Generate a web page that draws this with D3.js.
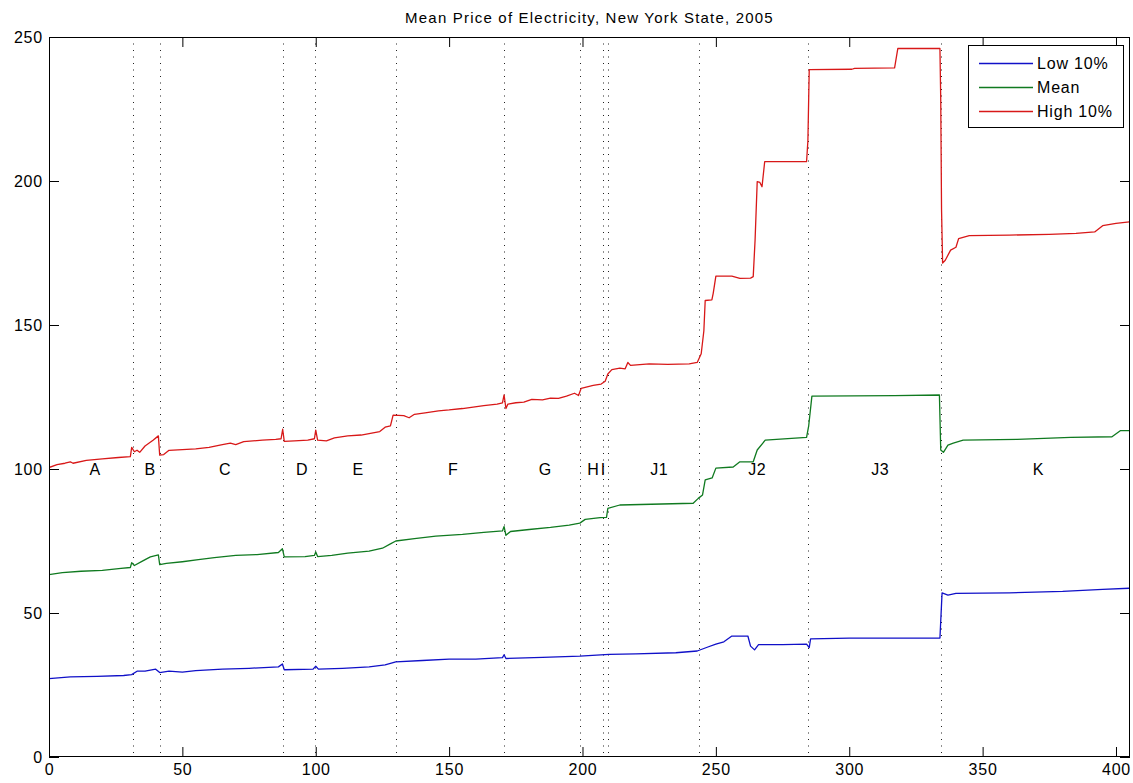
<!DOCTYPE html>
<html>
<head>
<meta charset="utf-8">
<script src="https://cdn.jsdelivr.net/npm/d3@7"></script>
<style>
  body { margin: 0; background: #fff; }
  text { font-family: "Liberation Sans", Arial, sans-serif; fill: #000; }
</style>
</head>
<body>
<svg></svg>
<script>
// values
var highX = [0,3,6,8,9,14,20,26,30.5,31,32,33,34,36,39,41,41.5,43,45,50,55,60,65,68,70,73,80,85,87,87.6,88.2,92,97,99.5,100,100.7,104,107,112,117,120,124,126,128,129,133,135,137,141,146,150,155,159,163,168,170,170.6,171.3,172,175,178,181,185,188,191,194,197,198.5,199.5,204,207,208.5,209.5,211,214,216,217,218,225,232,240,243,244.5,245.5,246,248.5,249,250,256,259,263,264,264.7,265.5,266.5,267.3,268.3,284,284.5,285,301,302,317,318.2,334,334.3,334.6,335,336,338,340,341,345,360,375,385,392,395,400,405]
var highY = [100.5,101.5,102,102.5,102,103,103.5,104,104.3,107.5,106,106.5,105.8,108,110,111.5,104.8,105,106.5,106.7,107,107.5,108.5,109,108.5,109.5,110,110.3,110.5,113.8,109.6,109.8,110,110.5,113.5,110,109.8,110.8,111.5,111.8,112.3,113,114.5,115,118.7,118.5,117.8,119,119.5,120.2,120.5,121,121.5,122,122.5,123,125.7,121,122.5,123,123.2,124.2,124,124.6,124.5,125.3,126.3,125.5,128,129,129.5,130.5,133,134.5,135,134.8,137,136,136.5,136.3,136.5,137,140,148,158.5,158.7,161,167,167,166.2,166.3,166.8,179.5,199.8,199.5,198,206.7,206.7,214,238.7,238.8,239.1,239.3,246,246,228,190,171.5,172.5,176,177,180,181,181.2,181.5,181.8,182.3,184.5,185.3,185.8]

var meanX = [0,5,12,20,27,30.5,31,32,35,38,41,41.5,44,50,56,62,70,78,86,87.5,88.2,96,99.5,100,100.7,106,112,120,125,128,130,137,145,155,163,170,170.6,171.3,173,180,188,195,199,201,206.6,209,209.5,214,241.5,243.4,245,246,248.6,250,256.5,259,264,265.5,268.5,284,284.8,286,317,333.8,334.3,335.3,337,339,342.7,363,383,398.5,401.6,405]
var meanY = [63.3,64,64.5,64.8,65.5,65.8,67.5,66.5,68,69.5,70.2,66.8,67.2,67.8,68.5,69.2,70,70.3,71,72.3,69.5,69.6,70,71.2,69.6,70,70.8,71.5,72.5,74,75,75.8,76.7,77.3,78,78.5,80,77,78.3,79,79.7,80.5,81.2,82.5,83.1,83.2,86.3,87.5,88.1,89.8,91,96.2,96.9,100.3,100.7,102.5,102.5,106.6,110,111,115,125.3,125.5,125.7,106.6,105.8,108.3,109,110,110.3,111,111.2,113.3,113.3]

var lowX = [0,8,18,28,31,33,36,40,41.5,45,50,55,65,75,86,87.5,88.2,99,100,101,110,120,126,130,140,150,160,170,170.6,171.3,185,199,210,220,235,243,247,250,253,256,262,263,264.5,266,275,284,285,285.5,300,334,334.8,337,340,360,380,395,405]
var lowY = [27.2,27.8,28,28.3,28.6,29.8,29.8,30.5,29.3,29.8,29.5,30,30.5,30.8,31.3,32.3,30.3,30.5,31.5,30.5,30.8,31.3,32,33,33.5,34,34,34.5,35.5,34.2,34.6,35,35.6,35.8,36.2,36.8,38.2,39.2,40,42,42,38.5,37.2,39,39,39.2,38,41,41.3,41.3,57,56.2,56.8,57,57.5,58.2,58.6]

var bounds = [31.4,41.6,87.6,99.8,130.1,170.6,198.9,207.6,209.4,243.8,284.5,334.4]
var regionNames = ["A","B","C","D","E","F","G","H","I","J1","J2","J3","K"]
var regionLabelX = [17.3,37.9,66,94.9,115.9,151.5,186,204,207.8,228.8,265.5,311.6,370.9]

var xTicks = [0,50,100,150,200,250,300,350,400]
var yTicks = [0,50,100,150,200,250]

var seriesNames = ["Low 10%","Mean","High 10%"]
var seriesColors = ["#1010c8","#107a20","#d81818"]

var screen = {width:1133, height:783}
var margins = {top:37, right:3, bottom:26, left:49}
var width = screen.width - margins.left - margins.right
var height = screen.height - margins.top - margins.bottom

var svg = d3.select("svg")
    .attr("width",screen.width)
    .attr("height",screen.height)

svg.append("rect").attr("width",screen.width).attr("height",screen.height).attr("fill","#fff")

var g = svg.append("g")
    .attr("id","graph")
    .attr("transform","translate("+margins.left+","+margins.top+")")

var xScale = d3.scaleLinear().domain([0,405.25]).range([0,width])
var yScale = d3.scaleLinear().domain([0,250]).range([height,0])

svg.append("defs").append("clipPath").attr("id","clip")
    .append("rect").attr("width",width).attr("height",height)

// region separators
g.selectAll(".sep")
    .data(bounds)
    .enter()
    .append("line")
    .attr("class","sep")
    .attr("x1",function(d){ return Math.round(xScale(d))+0.5 })
    .attr("x2",function(d){ return Math.round(xScale(d))+0.5 })
    .attr("y1",0)
    .attr("y2",height)
    .attr("stroke","#222")
    .attr("stroke-width",1)
    .attr("stroke-dasharray","1,5.5")

g.selectAll(".region")
    .data(regionNames)
    .enter()
    .append("text")
    .attr("class","region")
    .attr("x",function(d,i){ return xScale(regionLabelX[i]) })
    .attr("y",yScale(100))
    .attr("dy","0.36em")
    .attr("text-anchor","middle")
    .style("font-size","16px")
    .style("letter-spacing","0.5px")
    .text(function(d){ return d })

// series
var allSeries = [
    {x:lowX, y:lowY},
    {x:meanX, y:meanY},
    {x:highX, y:highY}
]
var line = d3.line()
    .x(function(d){ return xScale(d[0]) })
    .y(function(d){ return yScale(d[1]) })

g.append("g").attr("clip-path","url(#clip)")
    .selectAll("path")
    .data(allSeries)
    .enter()
    .append("path")
    .attr("fill","none")
    .attr("stroke",function(d,i){ return seriesColors[i] })
    .attr("stroke-width",1.3)
    .attr("stroke-linejoin","round")
    .attr("d",function(s){ return line(s.x.map(function(v,i){ return [v, s.y[i]] })) })

// axes, MATLAB style ticks inside on all sides
var tl = 10
var xAxis = d3.axisBottom(xScale).tickValues(xTicks).tickSizeInner(-tl).tickSizeOuter(0).tickPadding(7)
var yAxis = d3.axisLeft(yScale).tickValues(yTicks).tickSizeInner(-tl).tickSizeOuter(0).tickPadding(6)

g.append("g").attr("id","xAxis").attr("transform","translate(0,"+height+")").call(xAxis)
g.append("g").attr("id","yAxis").call(yAxis)
g.append("g").attr("transform","translate(0,0)")
    .call(d3.axisTop(xScale).tickValues(xTicks).tickSizeInner(-tl).tickSizeOuter(0).tickFormat(""))
g.append("g").attr("transform","translate("+width+",0)")
    .call(d3.axisRight(yScale).tickValues(yTicks).tickSizeInner(-tl).tickSizeOuter(0).tickFormat(""))

g.selectAll(".domain").remove()
g.selectAll(".tick line").attr("stroke","#000")
g.selectAll(".tick text").style("font-size","16px").style("letter-spacing","0.8px")
    .style("font-family","'Liberation Sans', Arial, sans-serif").attr("fill","#000")

g.append("rect")
    .attr("x",0.5).attr("y",0.5)
    .attr("width",width-1).attr("height",height-1)
    .attr("fill","none").attr("stroke","#000").attr("stroke-width",1)

// title
svg.append("text")
    .attr("x",margins.left+width/2)
    .attr("y",23)
    .attr("text-anchor","middle")
    .style("font-size","15px")
    .style("letter-spacing","1.2px")
    .text("Mean Price of Electricity, New York State, 2005")

// legend
var legend = svg.append("g").attr("transform","translate(968,45)")
legend.append("rect")
    .attr("x",0.5).attr("y",0.5)
    .attr("width",155).attr("height",82)
    .attr("fill","#fff").attr("stroke","#000")

var rows = legend.selectAll(".row")
    .data(seriesNames)
    .enter()
    .append("g")
    .attr("transform",function(d,i){ return "translate(0,"+(18+i*24)+")" })
rows.append("line")
    .attr("x1",11).attr("x2",65).attr("y1",0.5).attr("y2",0.5)
    .attr("stroke",function(d,i){ return seriesColors[i] })
    .attr("stroke-width",1.3)
rows.append("text")
    .attr("x",69).attr("y",0).attr("dy","0.36em")
    .style("font-size","16px")
    .style("letter-spacing","0.8px")
    .text(function(d){ return d })
</script>
</body>
</html>
